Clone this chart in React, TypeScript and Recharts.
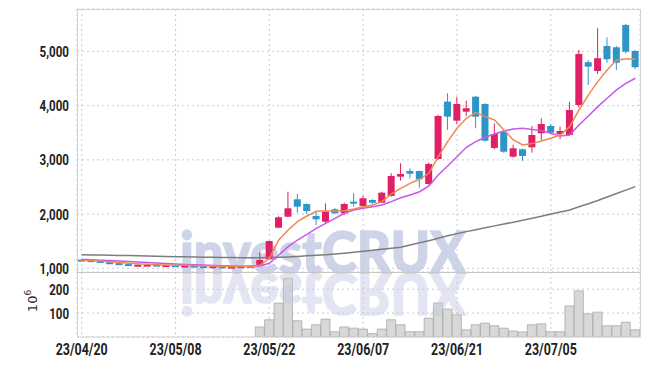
import React from "react";
import {
  ComposedChart,
  Bar,
  Line,
  XAxis,
  YAxis,
  CartesianGrid,
} from "recharts";

// trading days, 23/04/20 .. 23/07/18
const dates = [
  "23/04/20", "23/04/21", "23/04/24", "23/04/25", "23/04/26", "23/04/27", "23/04/28", "23/05/02", "23/05/03", "23/05/04",
  "23/05/08", "23/05/09", "23/05/10", "23/05/11", "23/05/12", "23/05/15", "23/05/16", "23/05/17", "23/05/18", "23/05/19",
  "23/05/22", "23/05/23", "23/05/24", "23/05/25", "23/05/26", "23/05/30", "23/05/31", "23/06/01", "23/06/02", "23/06/05",
  "23/06/07", "23/06/08", "23/06/09", "23/06/12", "23/06/13", "23/06/14", "23/06/15", "23/06/16", "23/06/19", "23/06/20",
  "23/06/21", "23/06/22", "23/06/23", "23/06/26", "23/06/27", "23/06/28", "23/06/29", "23/06/30", "23/07/03", "23/07/04",
  "23/07/05", "23/07/06", "23/07/07", "23/07/10", "23/07/11", "23/07/12", "23/07/13", "23/07/14", "23/07/17", "23/07/18",
];

const open = [
  1160, 1150, 1135, 1112, 1095, 1078, 1058, 1060, 1068, 1052,
  1058, 1045, 1050, 1040, 1030, 1035, 1022, 1030, 1040, 1061,
  1171, 1749, 1952, 2273, 2186, 1965, 1860, 2089, 2015, 2229,
  2150, 2260, 2210, 2334, 2690, 2795, 2795, 2555, 3017, 4074,
  3723, 3889, 4166, 4031, 3220, 3520, 3059, 3196, 3232, 3491,
  3625, 3478, 3459, 4013, 4801, 4640, 5101, 5077, 5489, 5009,
];
const high = [
  1165, 1155, 1140, 1117, 1100, 1083, 1070, 1072, 1072, 1064,
  1062, 1056, 1054, 1044, 1042, 1039, 1036, 1044, 1052, 1300,
  1510, 1960, 2413, 2371, 2195, 2044, 2199, 2110, 2210, 2384,
  2340, 2275, 2413, 2753, 2937, 2845, 2800, 2948, 3830, 4229,
  4166, 4092, 4180, 4044, 3675, 3540, 3281, 3210, 3625, 3767,
  3662, 3613, 4074, 5028, 4843, 5428, 5262, 5101, 5507, 5028,
];
const low = [
  1146, 1132, 1108, 1090, 1074, 1064, 1054, 1056, 1054, 1048,
  1044, 1041, 1036, 1028, 1026, 1016, 1018, 1026, 1036, 1050,
  1160, 1740, 1945, 2026, 2002, 1799, 1830, 2000, 1983, 2137,
  2107, 2186, 2200, 2320, 2616, 2660, 2487, 2545, 3000, 3552,
  3662, 3810, 3583, 3336, 3196, 3130, 3040, 2980, 3133, 3367,
  3490, 3380, 3440, 3970, 4382, 4585, 4793, 4659, 4967, 4672,
];
const close = [
  1150, 1135, 1112, 1095, 1078, 1068, 1066, 1068, 1058, 1060,
  1048, 1052, 1040, 1032, 1038, 1020, 1032, 1040, 1048, 1153,
  1504, 1941, 2107, 2137, 2057, 1904, 2044, 2015, 2186, 2199,
  2292, 2210, 2395, 2703, 2740, 2745, 2642, 2924, 3810, 3797,
  4031, 3952, 3797, 3354, 3478, 3151, 3214, 3072, 3459, 3662,
  3502, 3533, 3920, 4954, 4720, 4875, 4856, 4793, 4996, 4709,
];

// moving averages
const maShort = [
  1150, 1142, 1132, 1120, 1108, 1095, 1082, 1073, 1066, 1062,
  1058, 1055, 1052, 1048, 1042, 1036, 1032, 1032, 1034, 1055,
  1184, 1522, 1707, 1860, 1965, 2052, 2057, 2057, 2060, 2094,
  2137, 2168, 2229, 2370, 2476, 2568, 2642, 2753, 3059, 3336,
  3583, 3767, 3878, 3797, 3736, 3552, 3367, 3275, 3300, 3349,
  3398, 3459, 3613, 3920, 4198, 4443, 4659, 4843, 4862, 4862,
];
const maMid = [
  1165, 1158, 1150, 1142, 1134, 1126, 1116, 1106, 1096, 1088,
  1080, 1072, 1066, 1060, 1054, 1048, 1044, 1040, 1038, 1042,
  1092, 1245, 1399, 1522, 1627, 1738, 1830, 1922, 2015, 2076,
  2107, 2137, 2168, 2230, 2300, 2352, 2413, 2518, 2721, 2887,
  3059, 3232, 3336, 3417, 3478, 3533, 3570, 3583, 3560, 3539,
  3491, 3441, 3459, 3644, 3810, 3982, 4137, 4290, 4413, 4506,
];
const maLong = [
  1250, 1247, 1244, 1241, 1238, 1235, 1231, 1227, 1223, 1219,
  1215, 1212, 1209, 1206, 1203, 1200, 1198, 1196, 1195, 1195,
  1198, 1203, 1210, 1220, 1230, 1240, 1252, 1265, 1280, 1298,
  1316, 1335, 1352, 1370, 1390, 1430, 1470, 1510, 1555, 1600,
  1640, 1677, 1713, 1750, 1783, 1817, 1850, 1887, 1923, 1960,
  2000, 2038, 2076, 2134, 2192, 2250, 2315, 2380, 2443, 2506,
];

// volume, 10^6 shares (no bars before 23/05/19)
const volume = [
  null, null, null, null, null, null, null, null, null, null,
  null, null, null, null, null, null, null, null, null, 42,
  72, 142, 246, 68, 33, 51, 75, 22, 42, 37,
  33, 14, 33, 72, 51, 22, 22, 79, 142, 117,
  93, 30, 51, 58, 47, 37, 25, 21, 51, 55,
  22, 22, 130, 193, 97, 104, 47, 47, 62, 30,
];

const dateTicks = ["23/04/20", "23/05/08", "23/05/22", "23/06/07", "23/06/21", "23/07/05"];
const priceTicks = [1000, 2000, 3000, 4000, 5000];
const volumeTicks = [100, 200];

const rows = dates.map((date, i) => ({
  date,
  open: open[i],
  high: high[i],
  low: low[i],
  close: close[i],
  range: [low[i], high[i]],
  maShort: maShort[i],
  maMid: maMid[i],
  maLong: maLong[i],
  volume: volume[i],
}));

const UP = "#e01f66";
const DOWN = "#2e95c8";
const GRID = "#c4cbe0";
const FONT = "Roboto, 'DejaVu Sans', sans-serif";

// tick text squeezed to the narrow look of the original
const XTick = ({ x, y, payload }: any) => (
  <text
    x={x}
    y={y}
    dy={12}
    textAnchor="middle"
    textLength={52}
    lengthAdjust="spacingAndGlyphs"
    fontFamily={FONT}
    fontSize={16}
    fontWeight={700}
    fill="#222"
  >
    {payload.value}
  </text>
);

const YTick = ({ x, y, payload, fmt }: any) => {
  const label = fmt ? fmt(payload.value) : String(payload.value);
  const width = label.replace(",", "").length * 6.6 + (label.includes(",") ? 3 : 0);
  return (
    <text
      x={x}
      y={y}
      dy={5.5}
      textAnchor="end"
      textLength={width}
      lengthAdjust="spacingAndGlyphs"
      fontFamily={FONT}
      fontSize={15}
      fontWeight={700}
      fill="#222"
    >
      {label}
    </text>
  );
};

const Candle = (props: any) => {
  const { x, width, payload } = props;
  let { y, height } = props;
  if (height < 0) {
    y += height;
    height = -height;
  }
  const { open: o, close: c, high: h, low: l } = payload;
  const color = c >= o ? UP : DOWN;
  const k = h === l ? 0 : height / (h - l);
  const top = y + (h - Math.max(o, c)) * k;
  const bot = y + (h - Math.min(o, c)) * k;
  const bodyH = Math.max(bot - top, 2);
  const cx = x + width / 2;
  return (
    <g>
      <line x1={cx} x2={cx} y1={y} y2={y + height} stroke={color} strokeWidth={1} />
      <rect x={x} y={top} width={width} height={bodyH} fill={color} />
    </g>
  );
};

const Watermark = () => (
  <svg width={650} height={366} style={{ position: "absolute", left: 0, top: 0, zIndex: 2 }}>
    <g
      fontFamily="Lato, 'Open Sans', sans-serif"
      fontWeight={900}
      fontSize={57}
      fill="#c3cae3"
      stroke="#c3cae3"
      strokeWidth={1.5}
    >
      <text x={180} y={273} textLength={286} lengthAdjust="spacingAndGlyphs" opacity={0.8}>
        investCRUX
      </text>
      <text
        x={180}
        y={273}
        textLength={286}
        lengthAdjust="spacingAndGlyphs"
        opacity={0.45}
        transform="translate(0 546) scale(1 -1)"
      >
        investCRUX
      </text>
    </g>
    <text
      transform="translate(37 301) rotate(-90)"
      textAnchor="middle"
      fontFamily="'DejaVu Sans', sans-serif"
      fontSize={13}
      fill="#333"
    >
      10<tspan dy={-6} fontSize={9}>6</tspan>
    </text>
  </svg>
);

const Frame = () => (
  <svg width={650} height={366} style={{ position: "absolute", left: 0, top: 0, zIndex: 4, pointerEvents: "none" }}>
    <rect x={77.5} y={9.5} width={563} height={327.5} fill="none" stroke="#d2d2d2" />
    <line x1={77} x2={641} y1={272.5} y2={272.5} stroke="#c6c6c6" />
  </svg>
);

const fmtPrice = (v: number) => v.toLocaleString("en-US");

export default function App() {
  return (
    <div style={{ position: "absolute", left: 0, top: 0, width: 650, height: 366, background: "#fff" }}>
      <div style={{ position: "absolute", left: 0, top: 272, zIndex: 1 }}>
        <ComposedChart
          width={650}
          height={94}
          data={rows}
          barCategoryGap={0}
          margin={{ top: 0, right: 10, bottom: 0, left: 7 }}
        >
          <CartesianGrid stroke={GRID} strokeDasharray="2 3" />
          <XAxis
            dataKey="date"
            ticks={dateTicks}
            interval={0}
            height={29}
            axisLine={false}
            tickLine={false}
            tickMargin={0}
            tick={<XTick />}
          />
          <YAxis
            width={70}
            type="number"
            domain={[0, 272]}
            ticks={volumeTicks}
            interval={0}
            allowDataOverflow
            axisLine={false}
            tickLine={false}
            tick={<YTick />}
          />
          <Bar dataKey="volume" fill="#d8d8d8" stroke="#a9a9a9" strokeWidth={0.8} isAnimationActive={false} />
        </ComposedChart>
      </div>
      <Watermark />
      <div style={{ position: "absolute", left: 0, top: 0, zIndex: 3 }}>
        <ComposedChart width={650} height={280} data={rows} margin={{ top: 9, right: 10, bottom: 8, left: 7 }}>
          <CartesianGrid stroke={GRID} strokeDasharray="2 3" />
          <XAxis dataKey="date" hide ticks={dateTicks} interval={0} />
          <YAxis
            width={70}
            type="number"
            domain={[932, 5783]}
            ticks={priceTicks}
            interval={0}
            allowDataOverflow
            axisLine={false}
            tickLine={false}
            tick={<YTick fmt={fmtPrice} />}
          />
          <Bar dataKey="range" barSize={7} shape={<Candle />} isAnimationActive={false} />
          <Line dataKey="maLong" stroke="#7d7d7d" strokeWidth={1.5} dot={false} isAnimationActive={false} />
          <Line dataKey="maMid" stroke="#c658ea" strokeWidth={1.5} dot={false} isAnimationActive={false} />
          <Line dataKey="maShort" stroke="#ee8a4e" strokeWidth={1.5} dot={false} isAnimationActive={false} />
        </ComposedChart>
      </div>
      <Frame />
    </div>
  );
}
